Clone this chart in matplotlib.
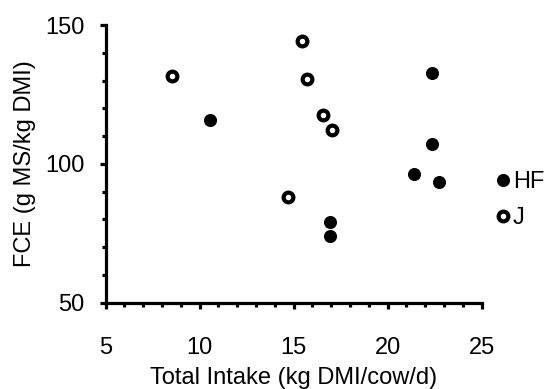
import matplotlib
matplotlib.use("Agg")
import matplotlib.pyplot as plt
from matplotlib.ticker import MultipleLocator

plt.rcParams['font.family'] = ['Liberation Sans', 'DejaVu Sans']

# HF (Holstein-Friesian), filled markers
hf_intake = [10.55, 22.34, 22.34, 21.42, 22.74, 16.93, 16.93]
hf_fce = [115.8, 132.6, 107.0, 96.3, 93.5, 78.9, 74.0]

# J (Jersey), open markers
j_intake = [8.51, 15.43, 15.69, 16.58, 17.02, 14.71]
j_fce = [131.6, 144.3, 130.7, 117.6, 112.2, 87.9]

fs = 17

fig = plt.figure(figsize=(5.47, 3.89), dpi=100)
ax = fig.add_axes([0.1932, 0.2219, 0.6874, 0.7138])

ax.plot(hf_intake, hf_fce, 'o', color='black', markersize=8.4, markeredgewidth=1,
        linestyle='none', label='HF', clip_on=False)
ax.plot(j_intake, j_fce, 'o', markerfacecolor='white', markeredgecolor='black',
        markeredgewidth=3.0, markersize=7.0, linestyle='none', label='J', clip_on=False)

ax.set_xlim(5, 25)
ax.set_ylim(50, 150)
ax.xaxis.set_major_locator(MultipleLocator(5))
ax.xaxis.set_minor_locator(MultipleLocator(1))
ax.yaxis.set_major_locator(MultipleLocator(50))
ax.yaxis.set_minor_locator(MultipleLocator(10))

for side in ['top', 'right']:
    ax.spines[side].set_visible(False)
for side in ['left', 'bottom']:
    ax.spines[side].set_linewidth(2.3)

ax.tick_params(which='major', direction='out', length=4.5, width=2.3, labelsize=fs)
ax.tick_params(which='minor', direction='out', length=2.8, width=2.3)
ax.tick_params(axis='x', which='major', pad=20)
ax.tick_params(axis='y', which='major', pad=11)

ax.set_xlabel('Total Intake (kg DMI/cow/d)', fontsize=fs, labelpad=6)
ax.set_ylabel('FCE (g MS/kg DMI)', fontsize=fs, labelpad=6)

ax.legend(loc='center left', bbox_to_anchor=(1.02, 0.37), frameon=False, fontsize=fs,
          handlelength=0.6, handletextpad=0.1, labelspacing=0.6, borderaxespad=0.3,
          borderpad=0.0)

fig.savefig('out.png', dpi=100)
